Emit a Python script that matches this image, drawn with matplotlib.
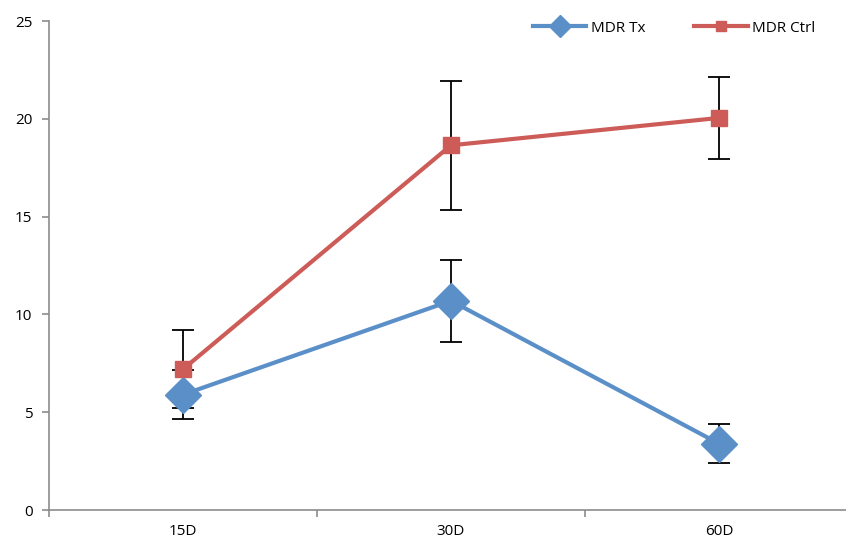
import matplotlib.pyplot as plt

plt.rcParams['font.family'] = ['Open Sans', 'DejaVu Sans']

days = ['15D', '30D', '60D']
tx = [5.9, 10.7, 3.4]
tx_err = [1.25, 2.1, 1.0]
ctrl = [7.2, 18.65, 20.05]
ctrl_err = [2.0, 3.3, 2.1]

blue = '#5B8FC8'
red = '#CD5C58'
grey = '#8C8C8C'

fig = plt.figure(figsize=(8.46, 5.42), dpi=100)
ax = fig.add_axes([0.058, 0.059, 0.950, 0.902])
x = range(len(days))

ax.errorbar(x, tx, yerr=tx_err, fmt='none', ecolor='black', elinewidth=1.3,
            capsize=8, capthick=1.3, zorder=1)
ax.errorbar(x, ctrl, yerr=ctrl_err, fmt='none', ecolor='black', elinewidth=1.3,
            capsize=8, capthick=1.3, zorder=1)
ax.plot(x, tx, color=blue, lw=3, marker='D', ms=18, mec=blue, label='MDR Tx', zorder=2)
ax.plot(x, ctrl, color=red, lw=3, marker='s', ms=11, mec=red, label='MDR Ctrl', zorder=3)

ax.set_xlim(-0.5, 2.5)
ax.set_ylim(0, 25)
ax.set_yticks([0, 5, 10, 15, 20, 25])
ax.set_xticks([-0.5, 0.5, 1.5, 2.5])
ax.set_xticklabels([])
ax.set_xticks(list(x), minor=True)
ax.set_xticklabels(days, minor=True)
ax.tick_params(axis='x', which='minor', length=0, pad=10, labelsize=11)
ax.tick_params(axis='x', which='major', length=5, color=grey, width=1.2)
ax.tick_params(axis='y', length=5, color=grey, width=1.2, labelsize=11, pad=7)

for s in ['top', 'right']:
    ax.spines[s].set_visible(False)
for s in ['left', 'bottom']:
    ax.spines[s].set_color(grey)
    ax.spines[s].set_linewidth(1.2)

leg = ax.legend(loc='center', bbox_to_anchor=(0.797, 0.948), bbox_transform=fig.transFigure,
                ncol=2, frameon=False, fontsize=11, handlelength=3.5,
                columnspacing=3.2, handletextpad=0.3, markerscale=0.6)

fig.savefig('out.png', dpi=100)
